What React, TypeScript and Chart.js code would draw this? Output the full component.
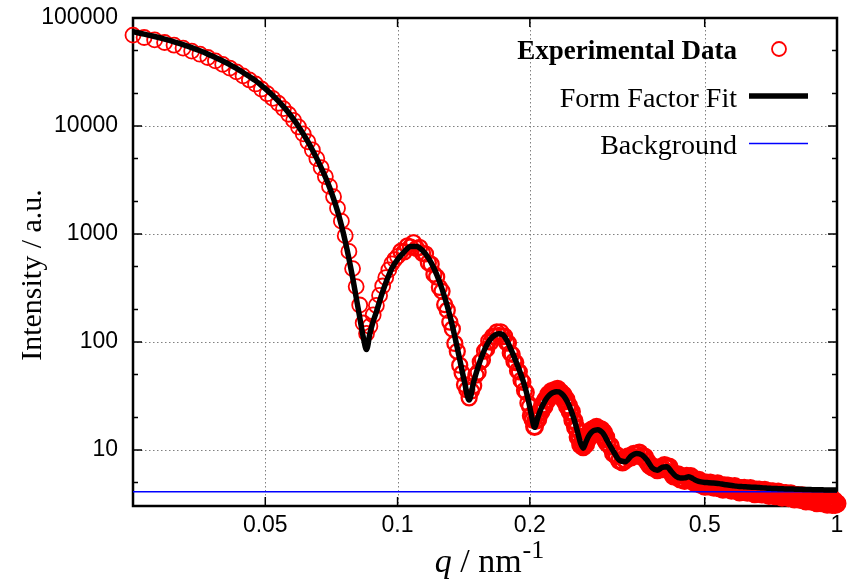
import React, { useEffect, useRef } from "react";
import { Chart, registerables } from "chart.js";

Chart.register(...registerables);

// ---- data ----
// Experimental data: [q (nm^-1), intensity (a.u.)]
const experimentalPoints: [number, number][] = [
  [0.025, 69400], [0.0265, 66000], [0.028, 62700], [0.0295, 59300], [0.031, 56000],
  [0.0325, 52600], [0.034, 49400], [0.0355, 46200], [0.037, 43100], [0.0385, 40100],
  [0.04, 37200], [0.0415, 34400], [0.043, 31700], [0.0445, 29100], [0.046, 26700],
  [0.0475, 24500], [0.049, 22000], [0.0505, 19900], [0.052, 18000], [0.0535, 16250],
  [0.055, 14500], [0.0565, 12850], [0.058, 11270], [0.0595, 9800], [0.061, 8450],
  [0.0625, 7150], [0.064, 6000], [0.0655, 4990], [0.067, 4120], [0.0685, 3400],
  [0.07, 2760], [0.0715, 2215], [0.073, 1730], [0.0745, 1315], [0.076, 965],
  [0.0775, 690], [0.079, 478], [0.0805, 326], [0.082, 220], [0.0835, 150],
  [0.085, 120], [0.0865, 140], [0.088, 178], [0.0895, 218], [0.091, 270],
  [0.0925, 330], [0.094, 395], [0.0955, 465], [0.097, 530], [0.0985, 580],
  [0.1, 620], [0.10175, 692], [0.1035, 682], [0.10525, 775], [0.107, 761],
  [0.10875, 832], [0.1105, 736], [0.11225, 753], [0.114, 662], [0.11575, 655],
  [0.1175, 542], [0.11925, 525], [0.121, 425], [0.12275, 400], [0.1245, 321],
  [0.12625, 295], [0.128, 222], [0.12975, 197], [0.1315, 153], [0.13325, 132],
  [0.135, 97], [0.13675, 82], [0.1385, 61], [0.14025, 51.5], [0.142, 40.3],
  [0.14375, 36.2], [0.1455, 30.4], [0.14725, 35.2], [0.149, 39.3], [0.15075, 49.4],
  [0.1525, 52.6], [0.15425, 65.5], [0.156, 68.1], [0.15775, 82.4], [0.1595, 85.8],
  [0.16125, 101.9], [0.163, 99.8], [0.16475, 113.2], [0.1665, 112.5], [0.16825, 123.8],
  [0.17, 115.2], [0.17175, 124.3], [0.1735, 112.3], [0.17525, 113.3], [0.177, 98.9],
  [0.17875, 97.7], [0.1805, 78.9], [0.18225, 77], [0.184, 66.4], [0.18575, 64.5],
  [0.1875, 54.2], [0.18925, 53], [0.191, 44.3], [0.19275, 42.4], [0.1945, 35.7],
  [0.19625, 34.1], [0.198, 27.2], [0.19975, 25.3], [0.2015, 20.8], [0.20325, 19.2],
  [0.205, 16.5], [0.20675, 18.9], [0.2085, 19.2], [0.21025, 22.4], [0.212, 22.6],
  [0.21375, 26.3], [0.2155, 25.4], [0.21725, 29], [0.219, 29], [0.22075, 32.7],
  [0.2225, 31.4], [0.22425, 34.8], [0.226, 32.6], [0.22775, 35.6], [0.2295, 33.7],
  [0.23125, 36.5], [0.233, 32.8], [0.23475, 34.3], [0.2365, 31.4], [0.23825, 32.4],
  [0.24, 28.5], [0.24175, 29.3], [0.2435, 25.4], [0.24525, 25.6], [0.247, 22.6],
  [0.24875, 22.6], [0.2505, 18.9], [0.25225, 18.6], [0.254, 16.2], [0.25575, 15.7],
  [0.2575, 13.2], [0.25925, 13.1], [0.261, 11.2], [0.26275, 11.5], [0.2645, 10.7],
  [0.26625, 11.9], [0.268, 11.3], [0.26975, 12.9], [0.2715, 12.8], [0.27325, 14.4],
  [0.275, 13.7], [0.27675, 15.3], [0.2785, 14.4], [0.28025, 15.7], [0.282, 14.8],
  [0.28375, 16.2], [0.2855, 14.6], [0.28725, 15.6], [0.289, 14.6], [0.29075, 15.4],
  [0.2925, 13.8], [0.29425, 14.5], [0.296, 12.7], [0.29775, 13.1], [0.2995, 11.7],
  [0.305, 10.9], [0.31, 9.3], [0.315, 8.9], [0.32, 8.0], [0.325, 7.75],
  [0.33, 8.1], [0.335, 8.65], [0.34, 8.6], [0.345, 9.15], [0.35, 9.0],
  [0.355, 9.4], [0.36, 8.7], [0.365, 8.6], [0.37, 7.8], [0.375, 7.2],
  [0.38, 6.95], [0.385, 6.9], [0.39, 6.55], [0.395, 6.8], [0.4, 6.7],
  [0.405, 7.2], [0.41, 6.8], [0.415, 6.95], [0.42, 6.2], [0.425, 5.75],
  [0.43, 5.85], [0.435, 5.9], [0.44, 5.38], [0.445, 5.5], [0.45, 5.22],
  [0.455, 5.72], [0.46, 5.38], [0.465, 5.67], [0.47, 5.19], [0.475, 4.97],
  [0.48, 5.18], [0.485, 5.25], [0.49, 4.8], [0.495, 4.9], [0.5, 4.61],
  [0.505, 4.96], [0.51, 4.65], [0.515, 4.95], [0.52, 4.64], [0.525, 4.51],
  [0.53, 4.76], [0.535, 4.87], [0.54, 4.47], [0.545, 4.58], [0.55, 4.32],
  [0.555, 4.66], [0.56, 4.37], [0.565, 4.65], [0.57, 4.36], [0.575, 4.25],
  [0.58, 4.49], [0.585, 4.59], [0.59, 4.22], [0.595, 4.33], [0.6, 4.09],
  [0.605, 4.41], [0.61, 4.14], [0.615, 4.43], [0.62, 4.16], [0.625, 4.06],
  [0.63, 4.29], [0.635, 4.4], [0.64, 4.05], [0.645, 4.17], [0.65, 3.94],
  [0.655, 4.26], [0.66, 4.0], [0.665, 4.27], [0.67, 4.01], [0.675, 3.91],
  [0.68, 4.14], [0.685, 4.25], [0.69, 3.91], [0.695, 4.02], [0.7, 3.8],
  [0.705, 4.1], [0.71, 3.85], [0.715, 4.11], [0.72, 3.86], [0.725, 3.77],
  [0.73, 3.99], [0.735, 4.09], [0.74, 3.76], [0.745, 3.87], [0.75, 3.66],
  [0.755, 3.95], [0.76, 3.71], [0.765, 3.96], [0.77, 3.71], [0.775, 3.62],
  [0.78, 3.84], [0.785, 3.93], [0.79, 3.62], [0.795, 3.72], [0.8, 3.52],
  [0.805, 3.8], [0.81, 3.56], [0.815, 3.8], [0.82, 3.57], [0.825, 3.48],
  [0.83, 3.68], [0.835, 3.77], [0.84, 3.47], [0.845, 3.57], [0.85, 3.37],
  [0.855, 3.64], [0.86, 3.42], [0.865, 3.65], [0.87, 3.43], [0.875, 3.35],
  [0.88, 3.54], [0.885, 3.63], [0.89, 3.34], [0.895, 3.43], [0.9, 3.25],
  [0.905, 3.51], [0.91, 3.3], [0.915, 3.53], [0.92, 3.31], [0.925, 3.24],
  [0.93, 3.43], [0.935, 3.52], [0.94, 3.24], [0.945, 3.33], [0.95, 3.15],
  [0.955, 3.41], [0.96, 3.2], [0.965, 3.42], [0.97, 3.21], [0.975, 3.13],
  [0.98, 3.31], [0.985, 3.4], [0.99, 3.13], [0.995, 3.21], [1.0, 3.2],
];

// Form-factor fit curve
const fitQ = [
  0.025, 0.0265, 0.028, 0.0295, 0.031, 0.0325, 0.034, 0.0355, 0.037, 0.0385,
  0.04, 0.0415, 0.043, 0.0445, 0.046, 0.0475, 0.049, 0.0505, 0.052, 0.0535,
  0.055, 0.0565, 0.058, 0.0595, 0.061, 0.0625, 0.064, 0.0655, 0.067, 0.0685,
  0.07, 0.0715, 0.073, 0.0745, 0.076, 0.0775, 0.079, 0.0805, 0.082, 0.0835,
  0.085, 0.0865, 0.088, 0.0895, 0.091, 0.0925, 0.094, 0.0955, 0.097, 0.0985,
  0.1,
  0.1035, 0.107, 0.1105, 0.114, 0.1175, 0.121, 0.1245, 0.128, 0.1315, 0.135,
  0.1385, 0.142, 0.1455, 0.149, 0.1525, 0.156, 0.1595, 0.163, 0.1665, 0.17,
  0.1735, 0.177, 0.1805, 0.184, 0.1875, 0.191, 0.1945, 0.198, 0.2015, 0.205,
  0.2085, 0.212, 0.2155, 0.219, 0.2225, 0.226, 0.2295, 0.233, 0.2365, 0.24,
  0.2435, 0.247, 0.2505, 0.254, 0.2575, 0.261, 0.2645, 0.268, 0.2715, 0.275,
  0.2785, 0.282, 0.2855, 0.289, 0.2925, 0.296, 0.2995,
  0.31, 0.32, 0.33, 0.34, 0.35, 0.36, 0.37, 0.38, 0.39, 0.4,
  0.41, 0.42, 0.43, 0.44, 0.45, 0.46, 0.47, 0.48, 0.49, 0.5,
  0.51, 0.52, 0.53, 0.54, 0.55, 0.56, 0.57, 0.58, 0.59, 0.6,
  0.61, 0.62, 0.63, 0.64, 0.65, 0.66, 0.67, 0.68, 0.69, 0.7,
  0.71, 0.72, 0.73, 0.74, 0.75, 0.76, 0.77, 0.78, 0.79, 0.8,
  0.81, 0.82, 0.83, 0.84, 0.85, 0.86, 0.87, 0.88, 0.89, 0.9,
  0.91, 0.92, 0.93, 0.94, 0.95, 0.96, 0.97, 0.98, 0.99, 1.0,
];

const fitIntensity = [
  74600, 71000, 67400, 63800, 60200, 56600, 53100, 49700, 46300, 43100,
  40000, 37000, 34100, 31300, 28700, 26300, 23700, 21400, 19200, 17100,
  15100, 13250, 11500, 9900, 8450, 7150, 6000, 4990, 4120, 3370,
  2710, 2130, 1630, 1205, 860, 594, 398, 259, 170, 112,
  85, 120, 155, 190, 238, 293, 352, 415, 479, 532,
  582,
  682, 765, 768, 703, 601, 482, 364, 260, 176, 112,
  69, 42.7, 29, 42.7, 58.9, 76.2, 93.2, 107, 116, 119,
  117, 104.5, 88.3, 73.6, 60.7, 49.6, 39.6, 30.1, 21.4, 16.2,
  20, 24, 27.5, 30.5, 32.7, 34, 34.7, 34.5, 33.1, 30.9,
  27.9, 24.5, 20.9, 17.4, 14.1, 11.5, 10.4, 11.7, 13.2, 14.3,
  15.0, 15.3, 15.4, 15.1, 14.5, 13.5, 12.3,
  9.7, 8.0, 7.8, 8.8, 9.3, 9.0, 8.0, 6.8, 6.5, 6.9,
  7.0, 6.3, 5.7, 5.5, 5.52, 5.65, 5.43, 5.19, 5.07, 5.01,
  4.98, 4.95, 4.92, 4.88, 4.82, 4.76, 4.71, 4.67, 4.63, 4.6,
  4.58, 4.56, 4.545, 4.53, 4.515, 4.5, 4.48, 4.46, 4.44, 4.42,
  4.41, 4.4, 4.39, 4.38, 4.37, 4.36, 4.355, 4.35, 4.345, 4.34,
  4.335, 4.33, 4.32, 4.315, 4.31, 4.305, 4.3, 4.295, 4.29, 4.29,
  4.285, 4.28, 4.275, 4.27, 4.27, 4.265, 4.26, 4.26, 4.255, 4.25,
];

const backgroundLevel = 4.1;

const xRange = [0.025, 1];
const yRange = [3.03, 100000];
const xTickValues = [0.05, 0.1, 0.2, 0.5, 1];
const yTickValues = [10, 100, 1000, 10000, 100000];
const yMinorFactors = [2, 5];

const seriesLabels = ["Experimental Data", "Form Factor Fit", "Background"];
const axisTitleY = "Intensity / a.u.";
const axisTitleXSymbol = "q";
const axisTitleXUnit = " / nm";
const axisTitleXExponent = "-1";

const RED = "rgb(255,0,0)";
const BLUE = "rgb(0,0,255)";
const SERIF = "'Liberation Serif', 'DejaVu Serif', serif";
const SANS = "'Liberation Sans', Arial, sans-serif";

const decorPlugin = {
  id: "decor",
  beforeDatasetsDraw(chart: any) {
    const { ctx, chartArea: a, scales } = chart;
    const x = scales.x;
    const y = scales.y;
    ctx.save();
    // dotted grid
    ctx.strokeStyle = "#808080";
    ctx.lineWidth = 1;
    ctx.setLineDash([1.5, 2.5]);
    for (const v of xTickValues) {
      const px = Math.round(x.getPixelForValue(v)) + 0.5;
      if (px > a.left + 2 && px < a.right - 2) {
        ctx.beginPath();
        ctx.moveTo(px, a.top);
        ctx.lineTo(px, a.bottom);
        ctx.stroke();
      }
    }
    for (const v of yTickValues) {
      const py = Math.round(y.getPixelForValue(v)) + 0.5;
      if (py > a.top + 2 && py < a.bottom - 2) {
        ctx.beginPath();
        ctx.moveTo(a.left, py);
        ctx.lineTo(a.right, py);
        ctx.stroke();
      }
    }
    ctx.setLineDash([]);
    // inward ticks on all sides
    ctx.strokeStyle = "#000";
    ctx.lineWidth = 1.5;
    const major = 9;
    const minor = 5;
    for (const v of xTickValues) {
      const px = x.getPixelForValue(v);
      ctx.beginPath();
      ctx.moveTo(px, a.bottom);
      ctx.lineTo(px, a.bottom - major);
      ctx.moveTo(px, a.top);
      ctx.lineTo(px, a.top + major);
      ctx.stroke();
    }
    const yTick = (v: number, len: number) => {
      if (v < yRange[0] || v > yRange[1]) return;
      const py = y.getPixelForValue(v);
      ctx.beginPath();
      ctx.moveTo(a.left, py);
      ctx.lineTo(a.left + len, py);
      ctx.moveTo(a.right, py);
      ctx.lineTo(a.right - len, py);
      ctx.stroke();
    };
    for (const v of yTickValues) yTick(v, major);
    for (let d = 0; d <= 4; d++) {
      for (const m of yMinorFactors) yTick(m * Math.pow(10, d), minor);
    }
    // frame
    ctx.lineWidth = 2.5;
    ctx.strokeRect(a.left, a.top, a.right - a.left, a.bottom - a.top);
    ctx.restore();
  },
  afterDraw(chart: any) {
    const { ctx } = chart;
    ctx.save();
    ctx.fillStyle = "#000";
    // legend
    ctx.textAlign = "right";
    ctx.textBaseline = "alphabetic";
    ctx.font = `bold 27px ${SERIF}`;
    ctx.fillText(seriesLabels[0], 737, 59);
    ctx.font = `28px ${SERIF}`;
    ctx.fillText(seriesLabels[1], 737, 106.5);
    ctx.fillText(seriesLabels[2], 737, 153.5);
    ctx.strokeStyle = RED;
    ctx.lineWidth = 1.8;
    ctx.beginPath();
    ctx.arc(779, 49, 7, 0, Math.PI * 2);
    ctx.stroke();
    ctx.strokeStyle = "#000";
    ctx.lineWidth = 5.5;
    ctx.beginPath();
    ctx.moveTo(749, 96);
    ctx.lineTo(808, 96);
    ctx.stroke();
    ctx.strokeStyle = BLUE;
    ctx.lineWidth = 1.5;
    ctx.beginPath();
    ctx.moveTo(749, 143.5);
    ctx.lineTo(808, 143.5);
    ctx.stroke();

    // y axis title
    ctx.save();
    ctx.translate(41, 275);
    ctx.rotate(-Math.PI / 2);
    ctx.textAlign = "center";
    ctx.textBaseline = "alphabetic";
    ctx.font = `30px ${SERIF}`;
    ctx.fillText(axisTitleY, 0, 0);
    ctx.restore();

    // x axis title: italic q, " / nm", superscript -1
    const fMain = `34px ${SERIF}`;
    const fItalic = `italic 34px ${SERIF}`;
    const fSup = `26px ${SERIF}`;
    ctx.textAlign = "left";
    ctx.font = fItalic;
    const w1 = ctx.measureText(axisTitleXSymbol).width;
    ctx.font = fMain;
    const w2 = ctx.measureText(axisTitleXUnit).width;
    ctx.font = fSup;
    const w3 = ctx.measureText(axisTitleXExponent).width;
    let xs = 489 - (w1 + w2 + w3) / 2;
    const base = 572;
    ctx.font = fItalic;
    ctx.fillText(axisTitleXSymbol, xs, base);
    xs += w1;
    ctx.font = fMain;
    ctx.fillText(axisTitleXUnit, xs, base);
    xs += w2 + 1;
    ctx.font = fSup;
    ctx.fillText(axisTitleXExponent, xs, base - 14);
    ctx.restore();
  },
};

export default function App() {
  const canvasRef = useRef<HTMLCanvasElement | null>(null);

  useEffect(() => {
    if (!canvasRef.current) return;
    const expPoints = experimentalPoints.map(([q, v]) => ({ x: q, y: v }));
    const fitPoints = fitQ.map((q, i) => ({ x: q, y: fitIntensity[i] }));
    const bgPoints = [
      { x: xRange[0], y: backgroundLevel },
      { x: xRange[1], y: backgroundLevel },
    ];
    const qOf = (c: any) => (c.raw ? c.raw.x : 0);
    const chart = new Chart(canvasRef.current, {
      type: "scatter",
      data: {
        datasets: [
          {
            label: seriesLabels[0],
            data: expPoints,
            showLine: false,
            pointStyle: "circle",
            pointRadius: (c: any) => (qOf(c) > 0.2 ? 8 : 7.5),
            pointBorderWidth: (c: any) => (qOf(c) > 0.2 ? 3 : qOf(c) > 0.1 ? 2.3 : 1.8),
            pointBorderColor: RED,
            pointBackgroundColor: "rgba(0,0,0,0)",
            borderColor: RED,
            backgroundColor: "rgba(0,0,0,0)",
            clip: false,
            order: 3,
          } as any,
          {
            label: seriesLabels[1],
            data: fitPoints,
            showLine: true,
            borderColor: "#000",
            borderWidth: 5.5,
            pointRadius: 0,
            cubicInterpolationMode: "monotone",
            borderJoinStyle: "round",
            borderCapStyle: "round",
            order: 1,
          } as any,
          {
            label: seriesLabels[2],
            data: bgPoints,
            showLine: true,
            borderColor: BLUE,
            borderWidth: 1.5,
            pointRadius: 0,
            order: 2,
          } as any,
        ],
      },
      options: {
        animation: false,
        responsive: true,
        maintainAspectRatio: false,
        events: [],
        layout: { padding: { top: 18, right: 11, left: 0, bottom: 0 } },
        plugins: {
          legend: { display: false },
          tooltip: { enabled: false },
          title: { display: false },
        },
        scales: {
          x: {
            type: "logarithmic",
            min: xRange[0],
            max: xRange[1],
            grid: { display: false, drawTicks: false },
            border: { display: false },
            afterBuildTicks: (scale: any) => {
              scale.ticks = xTickValues.map((v) => ({ value: v }));
            },
            afterFit: (scale: any) => {
              scale.height = 75;
              scale.paddingLeft = 0;
              scale.paddingRight = 0;
            },
            ticks: {
              autoSkip: false,
              maxRotation: 0,
              padding: 6,
              color: "#000",
              font: { family: SANS, size: 23 },
              callback: (v: any) => String(v),
            },
          },
          y: {
            type: "logarithmic",
            min: yRange[0],
            max: yRange[1],
            grid: { display: false, drawTicks: false },
            border: { display: false },
            afterBuildTicks: (scale: any) => {
              scale.ticks = yTickValues.map((v) => ({ value: v }));
            },
            afterFit: (scale: any) => {
              scale.width = 133;
              scale.paddingTop = 0;
              scale.paddingBottom = 0;
            },
            ticks: {
              autoSkip: false,
              padding: 15,
              color: "#000",
              font: { family: SANS, size: 23 },
              callback: (v: any) => String(v),
            },
          },
        },
      },
      plugins: [decorPlugin],
    });
    return () => chart.destroy();
  }, []);

  return (
    <div style={{ position: "fixed", left: 0, top: 0, width: 848, height: 581, background: "#fff" }}>
      <canvas ref={canvasRef} />
    </div>
  );
}
